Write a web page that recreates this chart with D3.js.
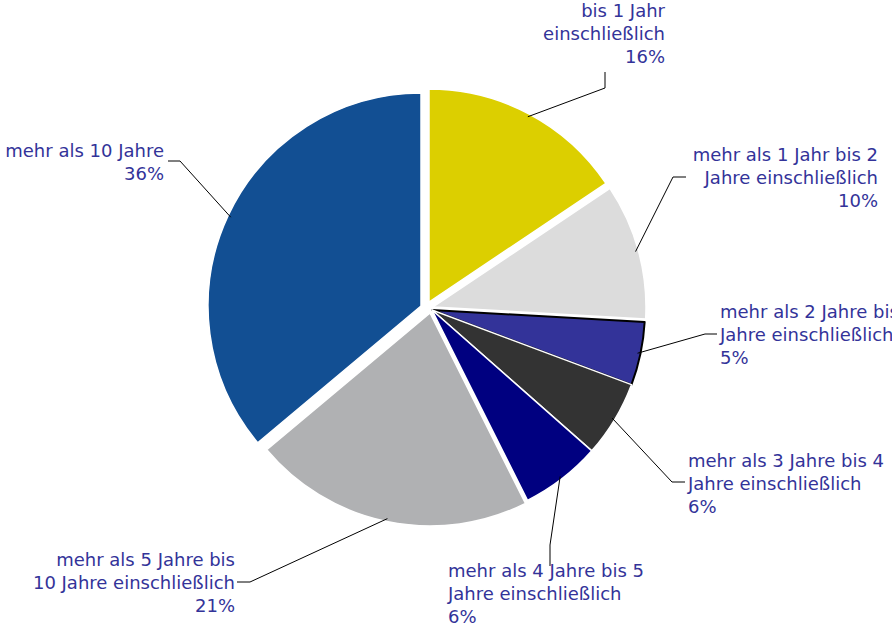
<!DOCTYPE html>
<html>
<head>
<meta charset="utf-8">
<script src="https://cdn.jsdelivr.net/npm/d3@7"></script>
<style>
  html, body { margin: 0; padding: 0; background: #fff; overflow: hidden; }
  text { font-family: "DejaVu Sans", Verdana, sans-serif; font-size: 18px; fill: #333399; }
</style>
</head>
<body>
<div id="chart"></div>
<script>
// Restlaufzeit shares, clockwise from 12 o'clock
const categories = [
    ["bis 1 Jahr", "einschließlich"],
    ["mehr als 1 Jahr bis 2", "Jahre einschließlich"],
    ["mehr als 2 Jahre bis 3", "Jahre einschließlich"],
    ["mehr als 3 Jahre bis 4", "Jahre einschließlich"],
    ["mehr als 4 Jahre bis 5", "Jahre einschließlich"],
    ["mehr als 5 Jahre bis", "10 Jahre einschließlich"],
    ["mehr als 10 Jahre"]
];
const values = [15.6, 10.3, 4.8, 5.8, 6.1, 21.3, 36.1];
const colors = ["#dccf00", "#dcdcdc", "#333399", "#333333", "#000080", "#b0b1b3", "#124f93"];

const width = 892, height = 627;
const cx = 432, cy = 310, radius = 213;
const lineH = 23;

// per slice: shift of the slice, label anchor + leader elbow/end
const shift = [[-3, -8], [1, -3], [0, 0], [0, 0], [0, 0], [-2, 3], [-11, -4]];
const labelLayout = [
    { anchor: "end",   x: 665, y: 17,  elbow: [605, 88],  end: [605, 72] },
    { anchor: "end",   x: 878, y: 161, elbow: [673, 177], end: [686, 177] },
    { anchor: "start", x: 720, y: 318, elbow: [705, 334], end: [717, 334] },
    { anchor: "start", x: 688, y: 467, elbow: [672, 482], end: [685, 482] },
    { anchor: "start", x: 448, y: 577, elbow: [550, 545], end: [550, 566] },
    { anchor: "end",   x: 235, y: 566, elbow: [250, 582], end: [237, 582] },
    { anchor: "end",   x: 164, y: 157, elbow: [180, 161], end: [168, 161] }
];

const svg = d3.select("#chart")
    .append("svg")
    .attr("width", width)
    .attr("height", height);

const pie = d3.pie().sort(null).value(d => d)(values);
const arc = d3.arc().innerRadius(0).outerRadius(radius);
const edgeArc = d3.arc().innerRadius(radius - 3).outerRadius(radius - 3);

const origin = i => [cx + shift[i][0], cy + shift[i][1]];

const slices = svg.append("g")
    .selectAll("g")
    .data(pie)
    .join("g")
    .attr("transform", (d, i) => `translate(${origin(i)})`);

slices.append("path")
    .attr("d", arc)
    .attr("fill", (d, i) => colors[i])
    .attr("stroke", (d, i) => i === 2 ? "#000" : "#fff")
    .attr("stroke-width", (d, i) => i === 2 ? 2 : 1.5)
    .attr("stroke-linejoin", "round");

// leader lines
svg.append("g")
    .selectAll("polyline")
    .data(pie)
    .join("polyline")
    .attr("fill", "none")
    .attr("stroke", "#000")
    .attr("stroke-width", 1)
    .attr("points", (d, i) => {
        const o = origin(i);
        const c = edgeArc.centroid(d);
        const L = labelLayout[i];
        return [[o[0] + c[0], o[1] + c[1]], L.elbow, L.end].map(p => p.join(",")).join(" ");
    });

// labels
const labels = svg.append("g")
    .selectAll("text")
    .data(pie)
    .join("text")
    .attr("text-anchor", (d, i) => labelLayout[i].anchor)
    .attr("x", (d, i) => labelLayout[i].x)
    .attr("y", (d, i) => labelLayout[i].y);

labels.each(function(d, i) {
    const lines = categories[i].concat([Math.round(values[i]) + "%"]);
    d3.select(this).selectAll("tspan")
        .data(lines)
        .join("tspan")
        .attr("x", labelLayout[i].x)
        .attr("dy", (t, j) => j === 0 ? 0 : lineH)
        .text(t => t);
});
</script>
</body>
</html>
